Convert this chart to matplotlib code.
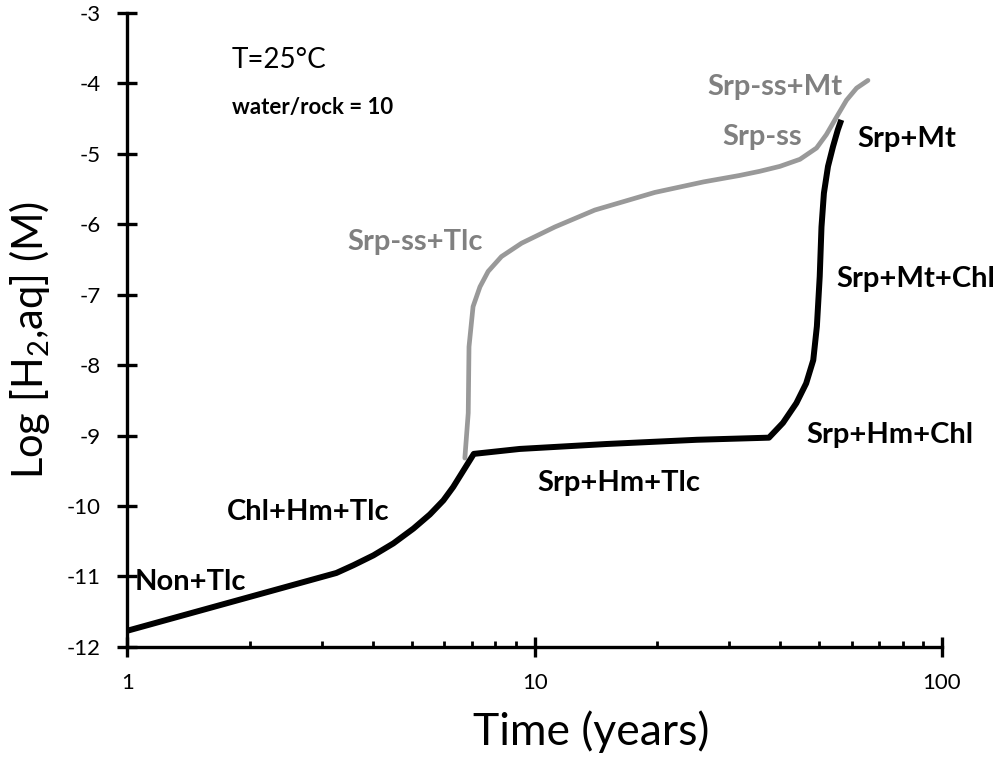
import matplotlib
matplotlib.use("Agg")
import matplotlib.pyplot as plt
from matplotlib.ticker import FixedLocator, LogLocator, NullFormatter

plt.rcParams['font.family'] = ['Lato', 'DejaVu Sans']
plt.rcParams['mathtext.fontset'] = 'custom'
plt.rcParams['mathtext.rm'] = 'Lato'
plt.rcParams['mathtext.it'] = 'Lato:italic'

# black curve (Srp + ... assemblages)
black_t = [1.0, 3.26, 3.59, 4.02, 4.50, 5.04, 5.53, 5.97, 6.31, 6.68, 7.09,
           9.19, 15.0, 25.0, 37.6,
           40.7, 43.9, 46.4, 48.3, 49.3, 50.1, 50.6, 51.3, 52.5, 54.0, 55.5, 56.6]
black_h2 = [-11.77, -10.95, -10.84, -10.70, -10.53, -10.32, -10.12, -9.92, -9.73, -9.50, -9.26,
            -9.19, -9.12, -9.06, -9.03,
            -8.82, -8.54, -8.26, -7.93, -7.45, -6.74, -6.04, -5.56, -5.18, -4.90, -4.66, -4.52]

# grey curve (solid-solution serpentine)
grey_t = [6.74, 6.87, 6.90, 7.06, 7.34, 7.69, 8.29, 9.29, 11.21, 14.05, 19.72, 26.0,
          31.8, 35.7, 40.0, 44.8, 49.2, 52.0, 55.1, 58.3, 61.7, 65.8]
grey_h2 = [-9.32, -8.68, -7.74, -7.17, -6.89, -6.67, -6.46, -6.27, -6.04, -5.80, -5.55, -5.40,
           -5.31, -5.25, -5.18, -5.08, -4.92, -4.73, -4.48, -4.24, -4.07, -3.96]

black_labels = ['Non+Tlc', 'Chl+Hm+Tlc', 'Srp+Hm+Tlc', 'Srp+Hm+Chl', 'Srp+Mt+Chl', 'Srp+Mt']
black_label_t = [1.044, 1.757, 10.18, 46.5, 54.9, 62.1]
black_label_h2 = [-11.19, -10.20, -9.79, -9.10, -6.89, -4.90]

grey_labels = ['Srp-ss+Tlc', 'Srp-ss', 'Srp-ss+Mt']
grey_label_t = [3.46, 28.9, 26.6]
grey_label_h2 = [-6.37, -4.88, -4.17]

fig = plt.figure(figsize=(10, 7.67), dpi=100)
ax = fig.add_axes([0.1273, 0.1565, 0.8147, 0.8269])

ax.plot(grey_t, grey_h2, color='#999999', lw=3.4, solid_joinstyle='round', solid_capstyle='round')
ax.plot(black_t, black_h2, color='black', lw=4.3, solid_joinstyle='round', solid_capstyle='butt')

for s, t, h in zip(black_labels, black_label_t, black_label_h2):
    ax.text(t, h, s, fontsize=21, fontweight='bold', color='black', ha='left', va='baseline')
for s, t, h in zip(grey_labels, grey_label_t, grey_label_h2):
    ax.text(t, h, s, fontsize=21, fontweight='bold', color='#808080', ha='left', va='baseline')

ax.text(1.807, -3.79, 'T=25°C', fontsize=20, ha='left', va='baseline')
ax.text(1.807, -4.43, 'water/rock = 10', fontsize=16, fontweight='bold', ha='left', va='baseline')

ax.set_xscale('log')
ax.set_xlim(1, 100)
ax.set_ylim(-12, -3)
ax.yaxis.set_major_locator(FixedLocator(range(-12, -2)))
ax.set_yticklabels([str(v) for v in range(-12, -2)])
ax.xaxis.set_major_locator(FixedLocator([1, 10, 100]))
ax.set_xticklabels(['1', '10', '100'])
ax.xaxis.set_minor_locator(LogLocator(base=10, subs=range(2, 10)))
ax.xaxis.set_minor_formatter(NullFormatter())

for side in ['top', 'right']:
    ax.spines[side].set_visible(False)
for side in ['left', 'bottom']:
    ax.spines[side].set_linewidth(2.4)

ax.tick_params(which='major', direction='inout', length=14, width=2.4, labelsize=16, pad=12)
ax.tick_params(which='minor', direction='in', length=4.5, width=2.0)

ax.set_xlabel('Time (years)', fontsize=32)
ax.xaxis.set_label_coords(0.569, -0.10)
ax.set_ylabel('Log [H$_2$,aq] (M)', fontsize=30)
ax.yaxis.set_label_coords(-0.092, 0.484)

fig.savefig('out.png', dpi=100)
